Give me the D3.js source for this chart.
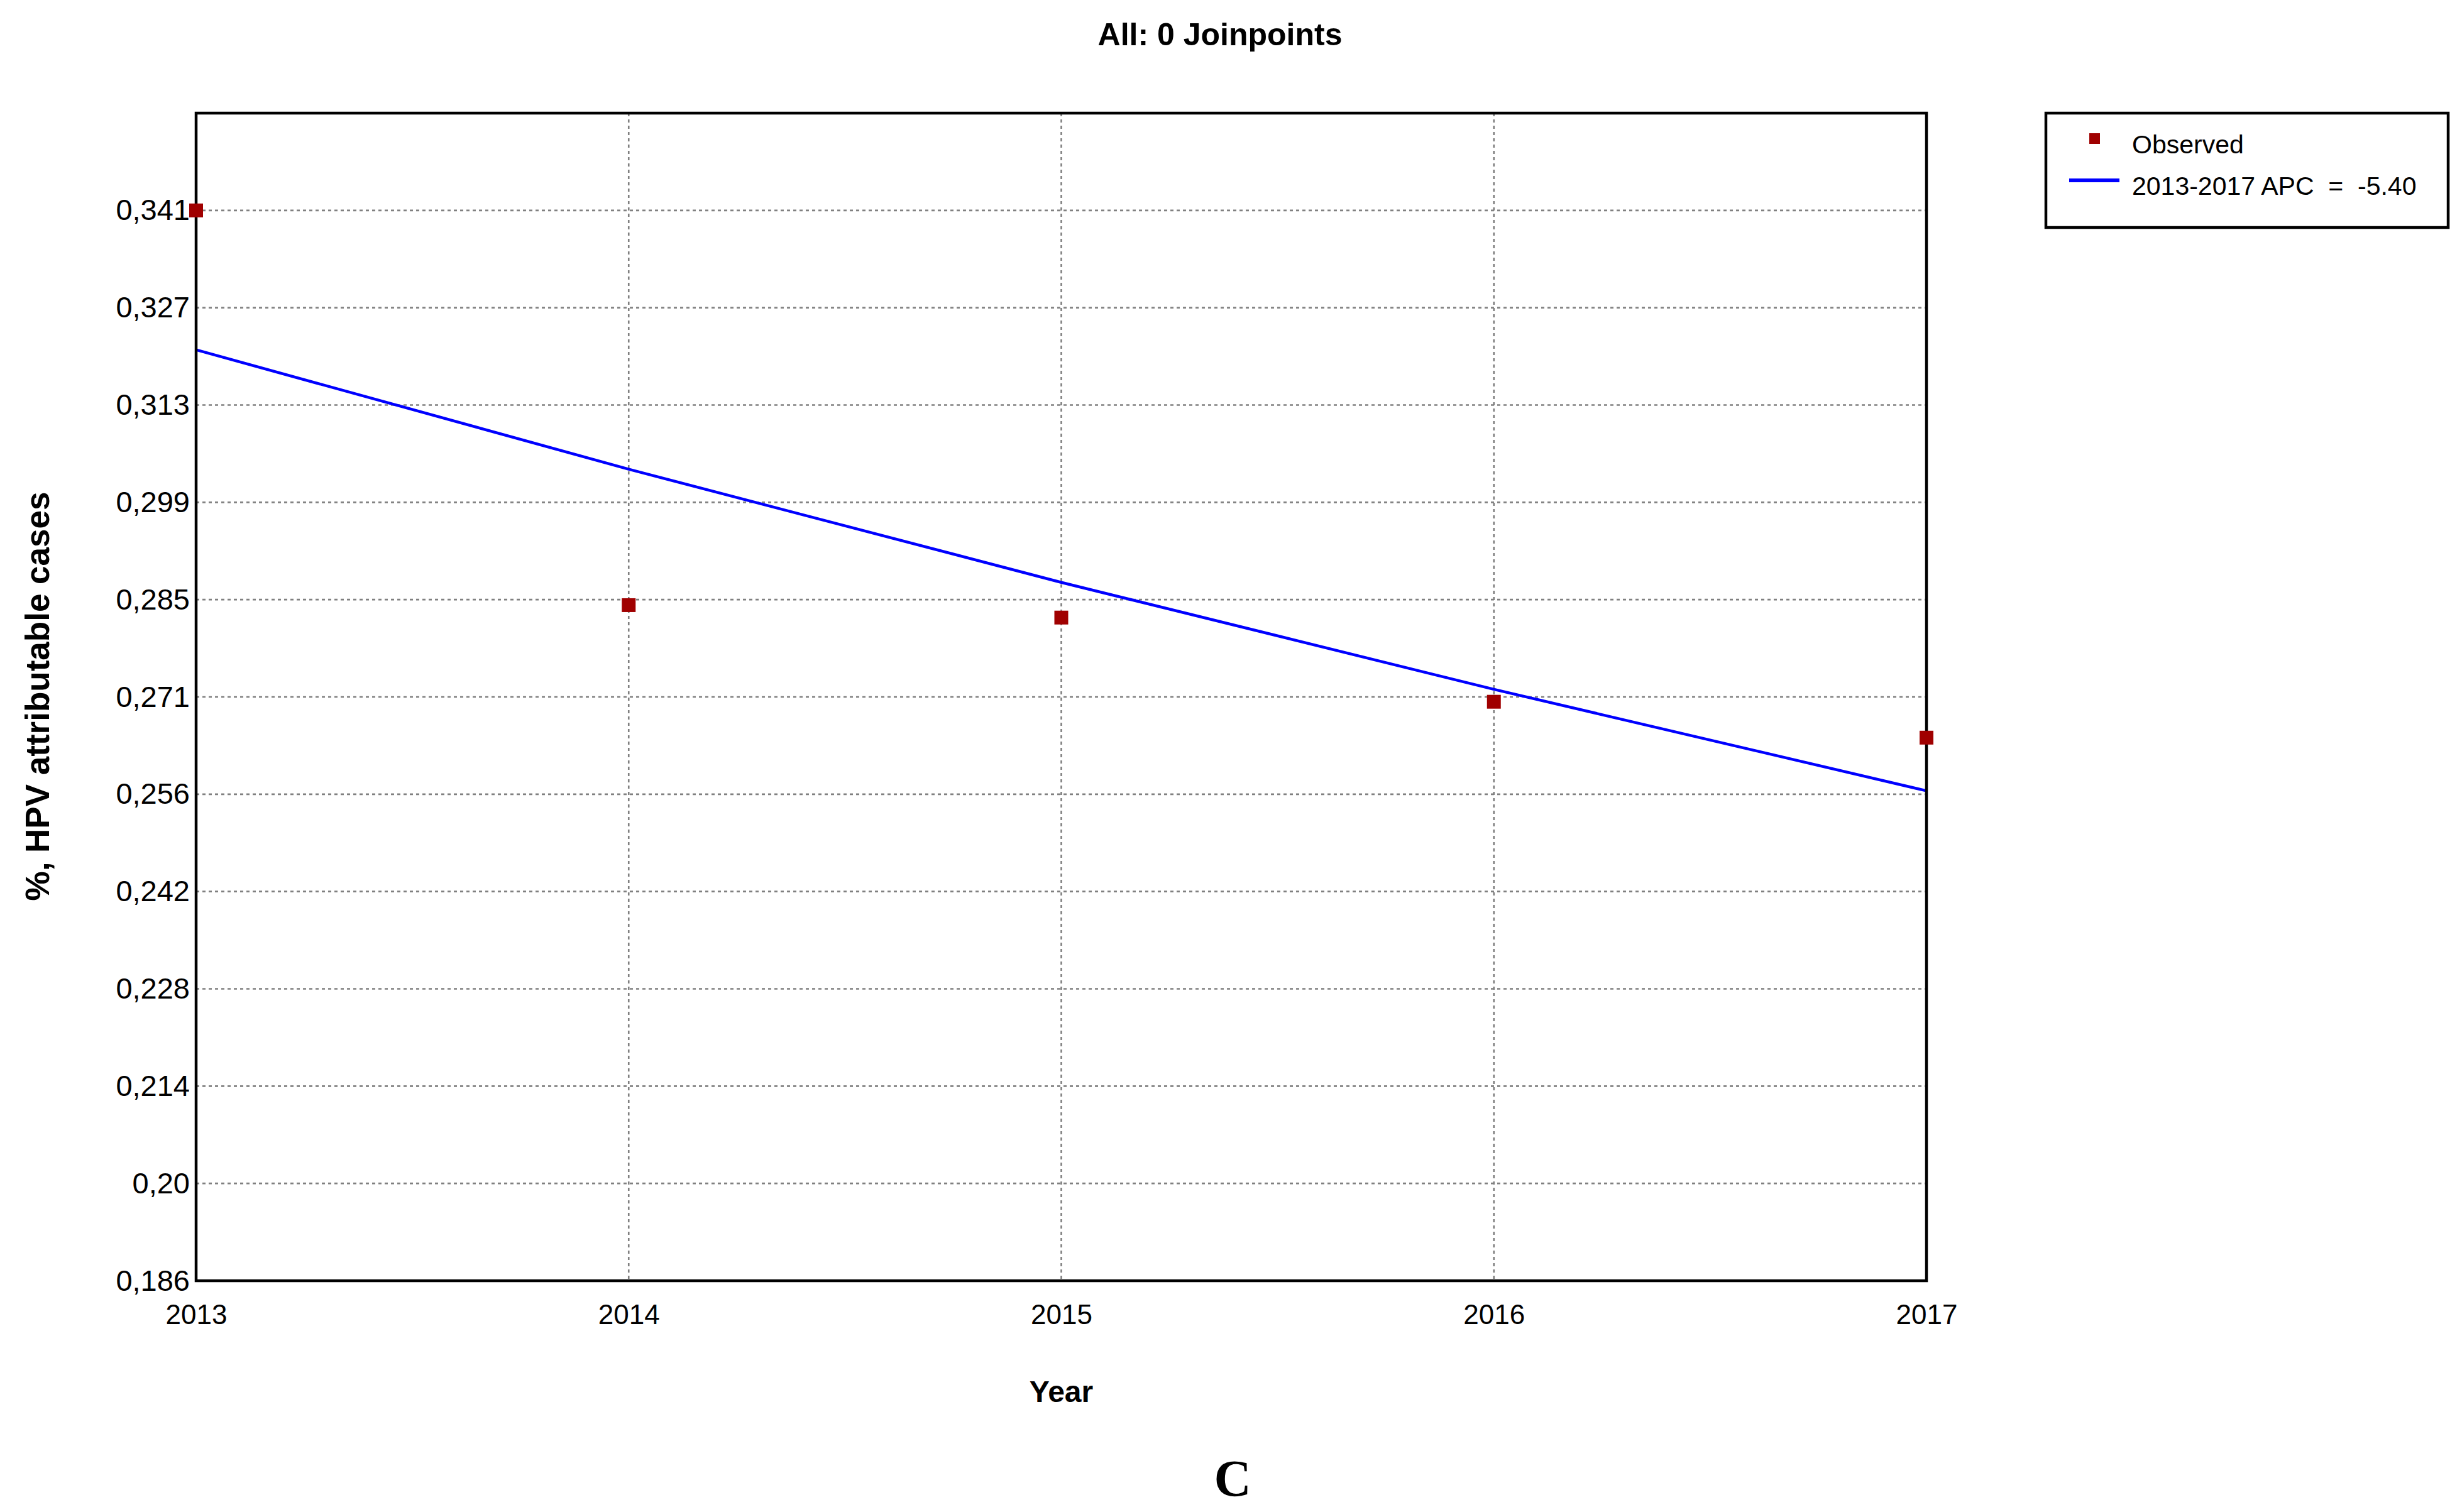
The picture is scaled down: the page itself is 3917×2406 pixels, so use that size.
<!DOCTYPE html>
<html>
<head>
<meta charset="utf-8">
<script src="https://cdn.jsdelivr.net/npm/d3@7"></script>
<style>
  html, body { margin: 0; padding: 0; background: #fff; }
  text { font-family: "Liberation Sans", Arial, sans-serif; }
</style>
</head>
<body>
<div id="chart"></div>
<script>
// data
var years = [2013, 2014, 2015, 2016, 2017];
var observed = [0.3411, 0.2839, 0.2821, 0.2699, 0.2647];
var modeled = [0.3209, 0.3036, 0.2872, 0.2717, 0.2570];
var yTickValues = [0.1860, 0.2001, 0.2142, 0.2283, 0.2424, 0.2565, 0.2706, 0.2847, 0.2988, 0.3129, 0.3270, 0.3411];
var yTickLabels = ["0,186", "0,20", "0,214", "0,228", "0,242", "0,256", "0,271", "0,285", "0,299", "0,313", "0,327", "0,341"];
var yDomain = [0.186, 0.3552];
var legendLabels = ["Observed", "2013-2017 APC  =  -5.40"];

// dimensions
var W = 3917, H = 2406;
var margin = {top: 180, right: 852, bottom: 368, left: 312},
  width = W - margin.left - margin.right,
  height = H - margin.top - margin.bottom;

var root = d3.select("#chart")
  .append("svg")
    .attr("width", W)
    .attr("height", H);

var svg = root.append("g")
    .attr("transform", "translate(" + margin.left + "," + margin.top + ")");

var x = d3.scaleLinear()
    .domain([years[0], years[years.length - 1]])
    .range([0, width]);

var y = d3.scaleLinear()
    .domain(yDomain)
    .range([height, 0]);

// grid lines
svg.append("g")
    .selectAll("line")
    .data(yTickValues)
    .enter()
    .append("line")
      .attr("x1", 0)
      .attr("x2", width)
      .attr("y1", function(d){ return y(d); })
      .attr("y2", function(d){ return y(d); })
      .attr("stroke", "#808080")
      .attr("stroke-width", 2.6)
      .attr("stroke-dasharray", "5,5");

svg.append("g")
    .selectAll("line")
    .data(years.slice(1, -1))
    .enter()
    .append("line")
      .attr("x1", function(d){ return x(d); })
      .attr("x2", function(d){ return x(d); })
      .attr("y1", 0)
      .attr("y2", height)
      .attr("stroke", "#808080")
      .attr("stroke-width", 2.6)
      .attr("stroke-dasharray", "5,5");

// axes
var yAxis = svg.append("g")
    .call(d3.axisLeft(y)
      .tickValues(yTickValues)
      .tickSize(0)
      .tickPadding(10)
      .tickFormat(function(d, i){ return yTickLabels[i]; }));
yAxis.select(".domain").remove();
yAxis.selectAll("text")
    .attr("font-size", 47)
    .attr("font-family", "Liberation Sans, Arial, sans-serif")
    .attr("fill", "#000");

var xAxis = svg.append("g")
    .attr("transform", "translate(0," + height + ")")
    .call(d3.axisBottom(x)
      .tickValues(years)
      .tickSize(0)
      .tickPadding(38)
      .tickFormat(d3.format("d")));
xAxis.select(".domain").remove();
xAxis.selectAll("text")
    .attr("font-size", 44)
    .attr("font-family", "Liberation Sans, Arial, sans-serif")
    .attr("fill", "#000");

// fitted line
var line = d3.line()
    .x(function(d, i){ return x(years[i]); })
    .y(function(d){ return y(d); });

svg.append("path")
    .datum(modeled)
    .attr("d", line)
    .attr("fill", "none")
    .attr("stroke", "#0000ff")
    .attr("stroke-width", 4.5);

// plot frame
svg.append("rect")
    .attr("x", 0)
    .attr("y", 0)
    .attr("width", width)
    .attr("height", height)
    .attr("fill", "none")
    .attr("stroke", "#000")
    .attr("stroke-width", 4.5);

// observed points
var ms = 22;
svg.selectAll("rect.obs")
    .data(observed)
    .enter()
    .append("rect")
      .attr("class", "obs")
      .attr("x", function(d, i){ return x(years[i]) - ms / 2; })
      .attr("y", function(d){ return y(d) - ms / 2; })
      .attr("width", ms)
      .attr("height", ms)
      .attr("fill", "#a00000");

// titles
root.append("text")
    .attr("x", 1941)
    .attr("y", 72)
    .attr("text-anchor", "middle")
    .attr("font-size", 50)
    .attr("font-weight", "bold")
    .text("All: 0 Joinpoints");

root.append("text")
    .attr("x", margin.left + x(2015))
    .attr("y", 2231)
    .attr("text-anchor", "middle")
    .attr("font-size", 48)
    .attr("font-weight", "bold")
    .text("Year");

root.append("text")
    .attr("transform", "translate(78,1108) rotate(-90)")
    .attr("text-anchor", "middle")
    .attr("font-size", 53)
    .attr("font-weight", "bold")
    .text("%, HPV attributable cases");

root.append("text")
    .attr("x", 1961)
    .attr("y", 2380)
    .attr("text-anchor", "middle")
    .attr("font-size", 82)
    .attr("font-weight", "bold")
    .style("font-family", "Liberation Serif, Times New Roman, serif")
    .text("C");

// legend
var legend = root.append("g")
    .attr("transform", "translate(3255,180)");

legend.append("rect")
    .attr("width", 640)
    .attr("height", 182)
    .attr("fill", "#fff")
    .attr("stroke", "#000")
    .attr("stroke-width", 4.5);

legend.append("rect")
    .attr("x", 69)
    .attr("y", 32)
    .attr("width", 17)
    .attr("height", 17)
    .attr("fill", "#a00000");

legend.append("line")
    .attr("x1", 37)
    .attr("x2", 117)
    .attr("y1", 107)
    .attr("y2", 107)
    .attr("stroke", "#0000ff")
    .attr("stroke-width", 6);

legend.selectAll("text.lab")
    .data(legendLabels)
    .enter()
    .append("text")
      .attr("class", "lab")
      .attr("x", 137)
      .attr("y", function(d, i){ return 64 + i * 66; })
      .attr("font-size", 41)
      .style("white-space", "pre")
      .text(function(d){ return d; });
</script>
</body>
</html>
